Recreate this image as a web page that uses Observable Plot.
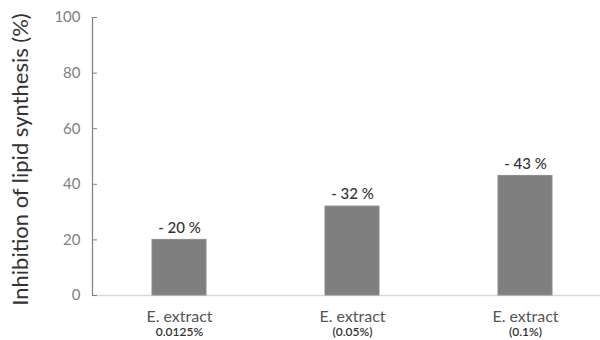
<!DOCTYPE html>
<html><head><meta charset="utf-8">
<script src="https://cdn.jsdelivr.net/npm/d3@7"></script>
<script src="https://cdn.jsdelivr.net/npm/@observablehq/plot@0.6"></script>
<style>body{margin:0;background:#fff}</style>
</head><body><div id="chart"></div>
<script>
const names = ["E. extract", "E. extract", "E. extract"];
const doses = ["0.0125%", "(0.05%)", "(0.1%)"];
const values = [20, 32, 43];
const labels = ["- 20 %", "- 32 %", "- 43 %"];
const yTicks = [0, 20, 40, 60, 80, 100];
const yTitle = "Inhibition of lipid synthesis (%)";

const data = doses.map((d, i) => ({dose: d, name: names[i], value: values[i], label: labels[i]}));
const font = "Lato, 'Open Sans', sans-serif";

const chart = Plot.plot({
  width: 600, height: 340,
  marginLeft: 92, marginRight: 0, marginTop: 17, marginBottom: 45,
  style: {fontFamily: font, background: "#fff"},
  x: {domain: doses, range: [92, 611], paddingInner: 0.69, paddingOuter: 0.345},
  y: {domain: [0, 100]},
  marks: [
    Plot.ruleY([0], {stroke: "#d9d9d9", strokeWidth: 1.5}),
    Plot.barY(data, {x: "dose", y: "value", fill: "#7f7f7f", stroke: "#8c8c8c", strokeWidth: 1}),
    Plot.text(data, {x: "dose", y: "value", text: "label", dy: -12, fontSize: 15, fill: "#333", fontWeight: 500}),
    Plot.axisY({ticks: yTicks, tickSize: -5, tickPadding: 17, fontSize: 15, color: "#808080", stroke: "#808080", label: null}),
    Plot.frame({anchor: "left", stroke: "#808080", strokeWidth: 1.2}),
    Plot.axisX({tickSize: 0, tickPadding: 15, fontSize: 16, color: "#555", tickFormat: (d) => names[doses.indexOf(d)], label: null}),
    Plot.axisX({tickSize: 0, tickPadding: 32, fontSize: 12, color: "#333", fontWeight: 600, tickFormat: d => d, label: null}),
    Plot.text([yTitle], {frameAnchor: "left", textAnchor: "middle", dx: -72, dy: 3, rotate: -90, fontSize: 22, fill: "#333", text: d => d})
  ]
});
document.getElementById("chart").append(chart);
</script></body></html>
